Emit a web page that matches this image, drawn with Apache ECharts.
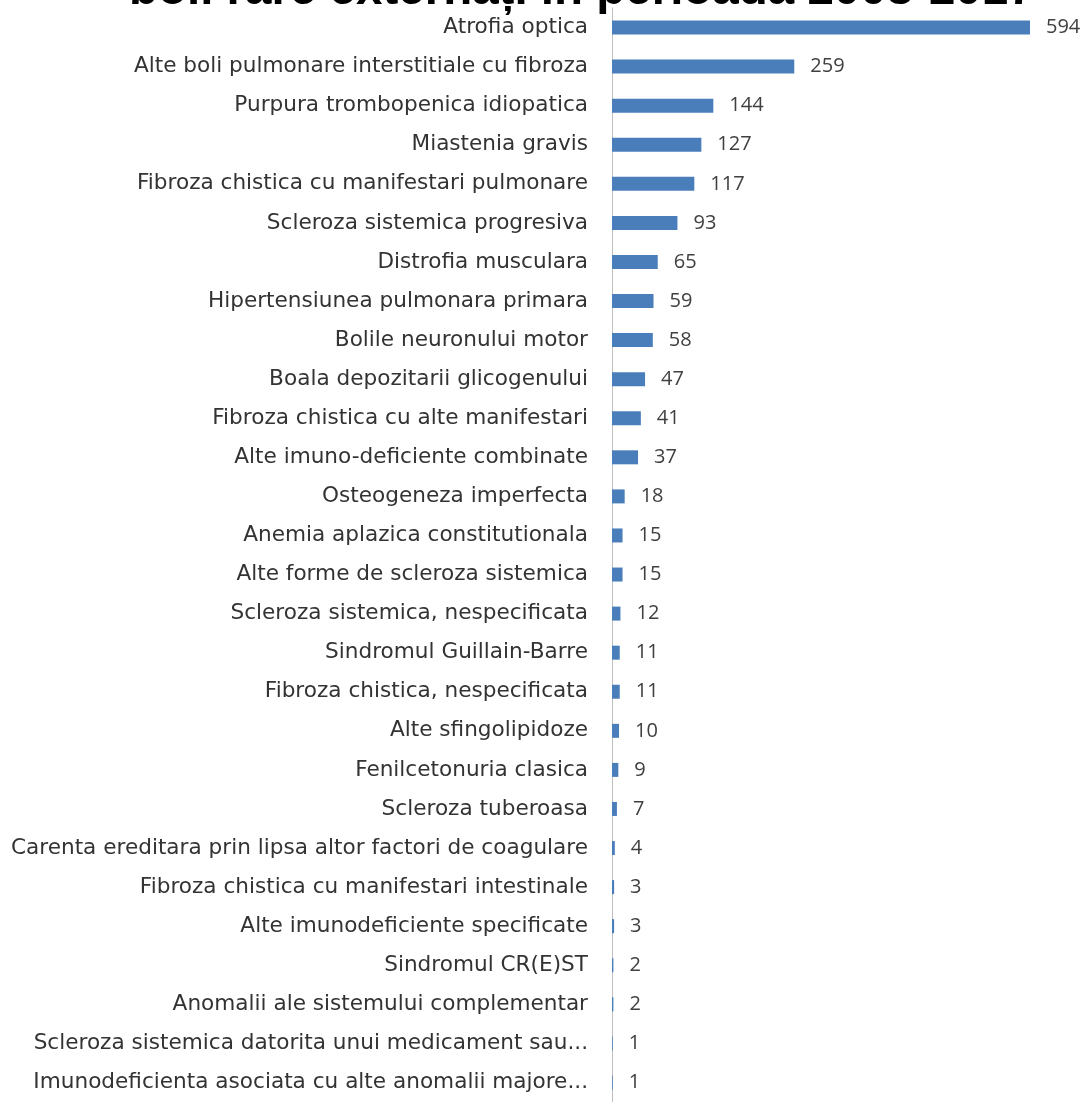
<!DOCTYPE html>
<html>
<head>
<meta charset="utf-8">
<script src="https://cdn.jsdelivr.net/npm/echarts@6/dist/echarts.min.js"></script>
<style>
    html, body { margin: 0; padding: 0; background: #fff; }
    #container { width: 1089px; height: 1102px; }
</style>
</head>
<body>
<div id="container"></div>
<script type="text/javascript">
    var titlu = 'boli rare externați în perioada 2008-2017';
    var boli = [
        'Atrofia optica',
        'Alte boli pulmonare interstitiale cu fibroza',
        'Purpura trombopenica idiopatica',
        'Miastenia gravis',
        'Fibroza chistica cu manifestari pulmonare',
        'Scleroza sistemica progresiva',
        'Distrofia musculara',
        'Hipertensiunea pulmonara primara',
        'Bolile neuronului motor',
        'Boala depozitarii glicogenului',
        'Fibroza chistica cu alte manifestari',
        'Alte imuno-deficiente combinate',
        'Osteogeneza imperfecta',
        'Anemia aplazica constitutionala',
        'Alte forme de scleroza sistemica',
        'Scleroza sistemica, nespecificata',
        'Sindromul Guillain-Barre',
        'Fibroza chistica, nespecificata',
        'Alte sfingolipidoze',
        'Fenilcetonuria clasica',
        'Scleroza tuberoasa',
        'Carenta ereditara prin lipsa altor factori de coagulare',
        'Fibroza chistica cu manifestari intestinale',
        'Alte imunodeficiente specificate',
        'Sindromul CR(E)ST',
        'Anomalii ale sistemului complementar',
        'Scleroza sistemica datorita unui medicament sau...',
        'Imunodeficienta asociata cu alte anomalii majore...'
    ];
    var cazuri = [594, 259, 144, 127, 117, 93, 65, 59, 58, 47, 41, 37, 18, 15, 15, 12, 11, 11, 10, 9, 7, 4, 3, 3, 2, 2, 1, 1];

    var myChart = echarts.init(document.getElementById('container'));
    var option = {
        animation: false,
        title: {
            text: titlu,
            left: 124,
            top: -38,
            textStyle: {
                fontFamily: 'Liberation Sans',
                fontWeight: 'bold',
                fontSize: 47.5,
                color: '#000'
            }
        },
        grid: {
            left: 612,
            width: 418,
            top: 8,
            height: 1098
        },
        xAxis: {
            type: 'value',
            min: 0,
            max: 594,
            show: false
        },
        yAxis: {
            type: 'category',
            data: boli,
            inverse: true,
            axisTick: { show: false },
            axisLine: { lineStyle: { color: '#bfbfbf', width: 1 } },
            axisLabel: {
                margin: 24,
                fontFamily: 'DejaVu Sans',
                fontSize: 21.6,
                color: '#333333'
            }
        },
        series: [{
            type: 'bar',
            data: cazuri,
            barWidth: 14,
            itemStyle: { color: '#4a7ebb' },
            label: {
                show: true,
                position: 'right',
                distance: 16,
                fontFamily: 'Open Sans',
                fontSize: 20,
                color: '#404040'
            }
        }]
    };
    myChart.setOption(option);
</script>
</body>
</html>
